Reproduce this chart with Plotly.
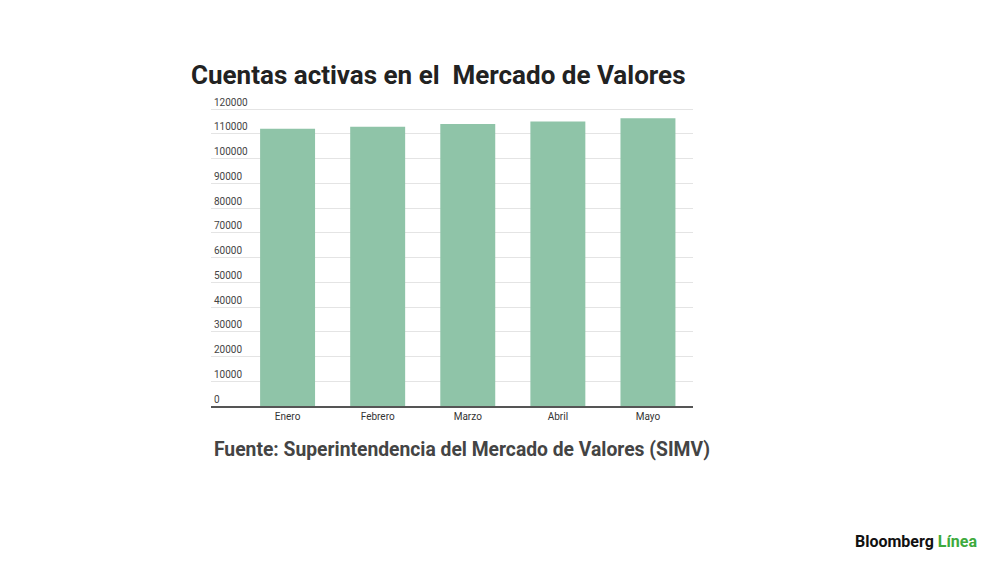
import plotly.graph_objects as go

months = ["Enero", "Febrero", "Marzo", "Abril", "Mayo"]
cuentas = [112000, 112850, 113900, 115000, 116300]
y_ticks = list(range(0, 120001, 10000))

# page has an 8px body margin; work in page pixels and convert
OFF = 8
W, H = 984, 546
PLOT_L, PLOT_R, PLOT_T, PLOT_B = 211, 693, 96, 406  # page pixels
l, r, t, b = PLOT_L - OFF, (W + OFF) - PLOT_R, PLOT_T - OFF, (H + OFF) - PLOT_B
pw, ph = W - l - r, H - t - b
# y range: 0 at baseline, 120000 at page y=109
ymax = 120000 * (PLOT_B - PLOT_T) / (PLOT_B - 109)

def px(x):
    return (x - PLOT_L) / pw

def py(y):
    return (PLOT_B - y) / ph

fig = go.Figure()
fig.add_trace(go.Bar(
    x=months, y=cuentas,
    marker=dict(color="#8fc4a8", line=dict(width=0)),
    width=0.61,
))

fig.update_layout(
    width=W, height=H,
    paper_bgcolor="white", plot_bgcolor="white",
    margin=dict(l=l, r=r, t=t, b=b, pad=0),
    showlegend=False,
    font=dict(family="Roboto", color="#444"),
    xaxis=dict(
        type="category", range=[-0.85, 4.5],
        showline=True, linecolor="#555", linewidth=2,
        showgrid=False, ticks="", tickfont=dict(size=10, color="#333"),
        fixedrange=True,
    ),
    yaxis=dict(
        range=[0, ymax], tickvals=y_ticks, ticktext=[str(v) for v in y_ticks],
        ticklabelposition="inside top", showgrid=True, gridcolor="#e4e4e4",
        gridwidth=1, zeroline=False, showline=False,
        tickfont=dict(size=10, color="#444"),
    ),
)

fig.add_annotation(text="<b>Cuentas activas en el  Mercado de Valores</b>",
                   x=px(189), y=py(75), xref="paper", yref="paper",
                   xanchor="left", yanchor="middle", showarrow=False,
                   font=dict(family="Roboto", size=26, color="#222"))
fig.add_annotation(text="<b>Fuente: Superintendencia del Mercado de Valores (SIMV)</b>",
                   x=px(212), y=py(449), xref="paper", yref="paper",
                   xanchor="left", yanchor="middle", showarrow=False,
                   font=dict(family="Roboto", size=19.3, color="#444"))
fig.add_annotation(text="<b>Bloomberg</b> <b><span style='color:#3daa3d'>Línea</span></b>",
                   x=px(979), y=py(541), xref="paper", yref="paper",
                   xanchor="right", yanchor="middle", showarrow=False,
                   font=dict(family="Roboto", size=16, color="#111"))

fig.write_html("out.html")
